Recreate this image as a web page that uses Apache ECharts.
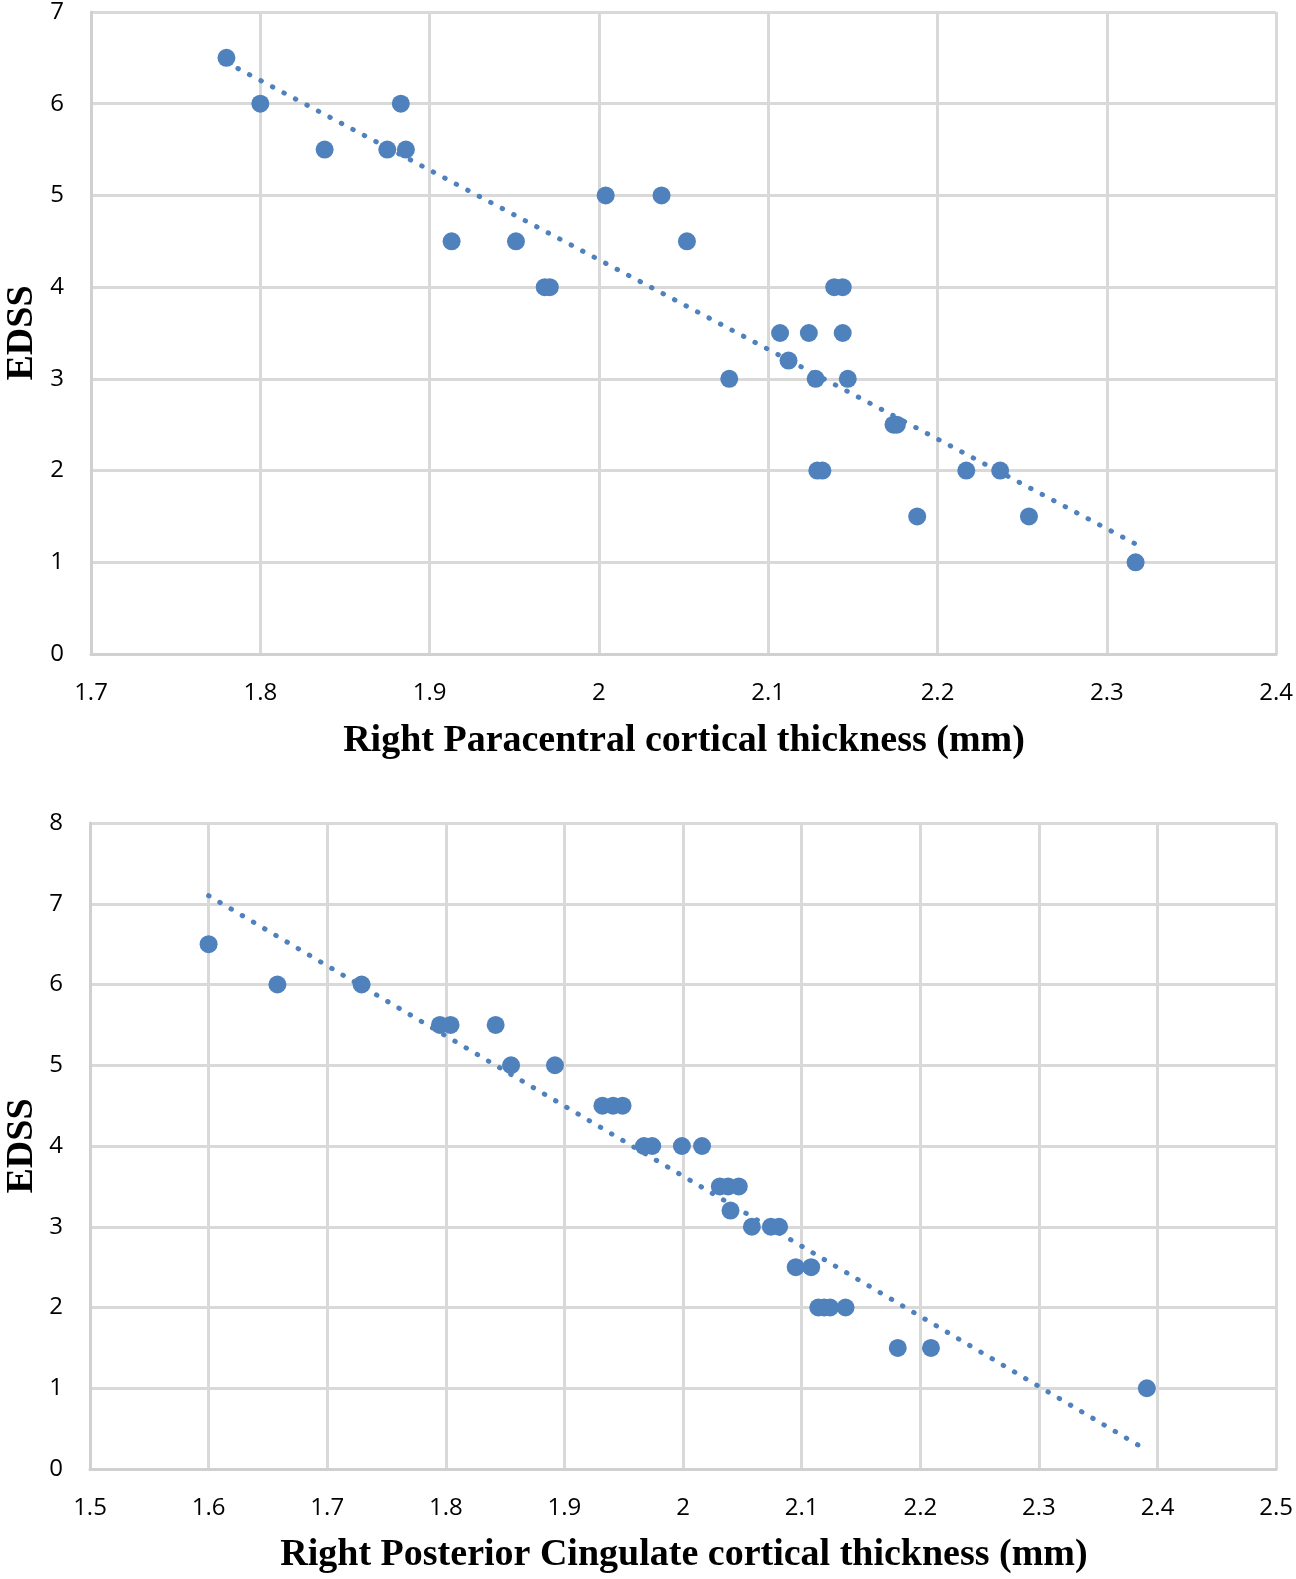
<!DOCTYPE html>
<html><head><meta charset="utf-8">
<script src="https://cdn.jsdelivr.net/npm/echarts@6/dist/echarts.min.js"></script>
<style>html,body{margin:0;padding:0;background:#fff;}#c{width:1296px;height:1579px;}</style>
</head><body><div id="c"></div>
<script>
// ---- Top chart: Right Paracentral ----
const topX = [1.780, 1.800, 1.838, 1.875, 1.883, 1.886, 1.913, 1.951, 1.968, 1.971, 2.004, 2.037, 2.052, 2.077, 2.107, 2.112, 2.124, 2.128, 2.129, 2.132, 2.139, 2.144, 2.144, 2.147, 2.174, 2.176, 2.188, 2.217, 2.237, 2.254, 2.317];
const topY = [6.5, 6, 5.5, 5.5, 6, 5.5, 4.5, 4.5, 4, 4, 5, 5, 4.5, 3, 3.5, 3.2, 3.5, 3, 2, 2, 4, 4, 3.5, 3, 2.5, 2.5, 1.5, 2, 2, 1.5, 1];
const topTrendX = [1.780, 2.317];
const topTrendY = [6.45, 1.2];
const topXTitle = 'Right Paracentral cortical thickness (mm)';

// ---- Bottom chart: Right Posterior Cingulate ----
const botX = [1.600, 1.658, 1.729, 1.795, 1.804, 1.842, 1.855, 1.892, 1.932, 1.941, 1.949, 1.967, 1.974, 1.999, 2.016, 2.031, 2.038, 2.047, 2.040, 2.058, 2.074, 2.081, 2.095, 2.108, 2.114, 2.119, 2.124, 2.137, 2.181, 2.209, 2.391];
const botY = [6.5, 6, 6, 5.5, 5.5, 5.5, 5, 5, 4.5, 4.5, 4.5, 4, 4, 4, 4, 3.5, 3.5, 3.5, 3.2, 3, 3, 3, 2.5, 2.5, 2, 2, 2, 2, 1.5, 1.5, 1];
const botTrendX = [1.600, 2.389];
const botTrendY = [7.1, 0.25];
const botXTitle = 'Right Posterior Cingulate cortical thickness (mm)';
const yTitle = 'EDSS';

const zip = (a, b) => a.map((v, i) => [v, b[i]]);
const BLUE = '#4f81bd';
const labelFont = {color: '#000', fontFamily: 'Open Sans', fontSize: 24};
const titleFont = {color: '#000', fontFamily: 'Liberation Serif', fontWeight: 'bold', fontSize: 38};
const fmt = v => String(+v.toFixed(1));

function xAxis(gi, min, max) {
  return {type: 'value', gridIndex: gi, min: min, max: max, interval: 0.1,
    axisLine: {show: true, lineStyle: {color: '#d0d0d0', width: 3}},
    axisTick: {show: false},
    splitLine: {show: true, lineStyle: {color: '#d9d9d9', width: 3}},
    axisLabel: Object.assign({margin: 27, formatter: fmt}, labelFont)};
}
function yAxis(gi, max) {
  return {type: 'value', gridIndex: gi, min: 0, max: max, interval: 1,
    axisLine: {show: true, lineStyle: {color: '#d0d0d0', width: 3}},
    axisTick: {show: false},
    splitLine: {show: true, lineStyle: {color: '#d9d9d9', width: 3}},
    axisLabel: Object.assign({margin: 27}, labelFont)};
}
const trendStyle = {color: BLUE, width: 5, type: [0.5, 12.5], cap: 'round'};

const chart = echarts.init(document.getElementById('c'), null, {renderer: 'canvas'});
chart.setOption({
  animation: false,
  backgroundColor: '#fff',
  grid: [
    {left: 91, right: 19, top: 9, height: 645},
    {left: 90, right: 19, top: 823, height: 646}
  ],
  xAxis: [xAxis(0, 1.7, 2.4), xAxis(1, 1.5, 2.5)],
  yAxis: [yAxis(0, 7), yAxis(1, 8)],
  graphic: [
    {type: 'text', x: 684, y: 741, style: Object.assign({text: topXTitle, align: 'center', verticalAlign: 'middle'}, titleFont)},
    {type: 'text', x: 684, y: 1555, style: Object.assign({text: botXTitle, align: 'center', verticalAlign: 'middle'}, titleFont)},
    {type: 'text', x: 3, y: 333, rotation: Math.PI / 2, style: Object.assign({text: yTitle, align: 'center', verticalAlign: 'top'}, titleFont)},
    {type: 'text', x: 3, y: 1146, rotation: Math.PI / 2, style: Object.assign({text: yTitle, align: 'center', verticalAlign: 'top'}, titleFont)}
  ],
  series: [
    {type: 'scatter', xAxisIndex: 0, yAxisIndex: 0, data: zip(topX, topY), symbolSize: 18, itemStyle: {color: BLUE, opacity: 1}},
    {type: 'line', xAxisIndex: 0, yAxisIndex: 0, data: zip(topTrendX, topTrendY), showSymbol: false, symbol: 'none', lineStyle: trendStyle, z: 3},
    {type: 'scatter', xAxisIndex: 1, yAxisIndex: 1, data: zip(botX, botY), symbolSize: 18, itemStyle: {color: BLUE, opacity: 1}},
    {type: 'line', xAxisIndex: 1, yAxisIndex: 1, data: zip(botTrendX, botTrendY), showSymbol: false, symbol: 'none', lineStyle: trendStyle, z: 3}
  ]
});
</script>
</body></html>
